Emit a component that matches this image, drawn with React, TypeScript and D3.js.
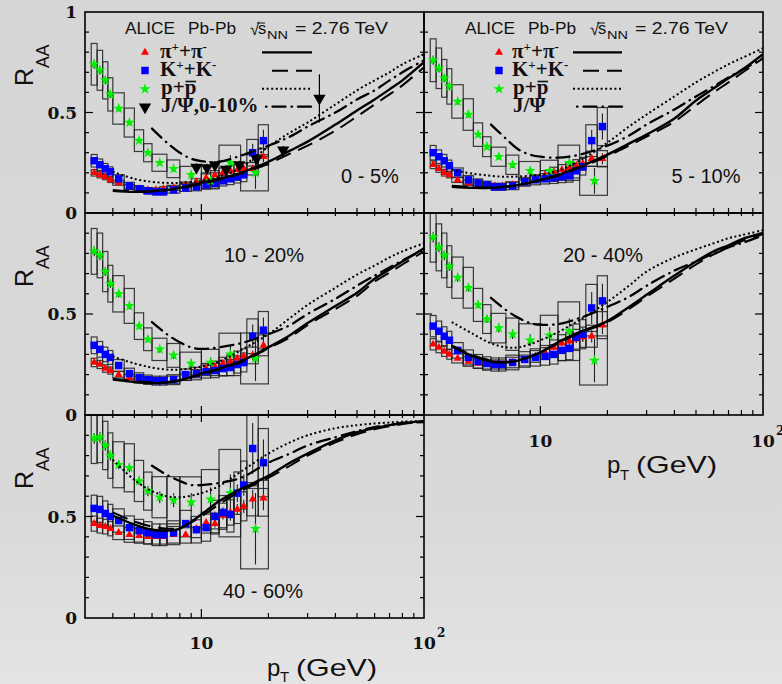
import React from 'react';
import * as d3 from 'd3';

const W = 782;
const H = 684;

// ---------- binning ----------
const piKPt = [3.3, 3.5, 3.7, 3.9, 4.25, 4.75, 5.25, 5.75, 6.25, 6.75, 7.5, 8.5, 9.5, 10.5, 11.5, 12.5, 13.5, 14.5, 15.5, 17, 19];
const piKLo = [3.2, 3.4, 3.6, 3.8, 4.0, 4.5, 5.0, 5.5, 6.0, 6.5, 7, 8, 9, 10, 11, 12, 13, 14, 15, 16, 18];
const piKHi = [3.4, 3.6, 3.8, 4.0, 4.5, 5.0, 5.5, 6.0, 6.5, 7, 8, 9, 10, 11, 12, 13, 14, 15, 16, 18, 20];
const pPt = [3.3, 3.5, 3.7, 3.9, 4.25, 4.75, 5.25, 5.75, 6.5, 7.5, 9, 11, 13.5, 17.5];
const pLo = [3.2, 3.4, 3.6, 3.8, 4.0, 4.5, 5.0, 5.5, 6, 7, 8, 10, 12, 15];
const pHi = [3.4, 3.6, 3.8, 4.0, 4.5, 5.0, 5.5, 6.0, 7, 8, 10, 12, 15, 20];

// relative systematic / statistical uncertainties
const piSysRel = [0.08, 0.08, 0.08, 0.08, 0.08, 0.09, 0.09, 0.09, 0.09, 0.09, 0.1, 0.1, 0.1, 0.11, 0.11, 0.12, 0.12, 0.13, 0.13, 0.14, 0.15];
const kSysRel = [0.12, 0.12, 0.12, 0.12, 0.12, 0.13, 0.13, 0.13, 0.13, 0.13, 0.14, 0.14, 0.15, 0.15, 0.16, 0.16, 0.17, 0.17, 0.18, 0.22, 0.22];
const pSysRel = [0.14, 0.14, 0.14, 0.14, 0.15, 0.16, 0.15, 0.15, 0.17, 0.2, 0.22, 0.25, 0.35, 0.45];
const piStatRel = [0, 0, 0, 0, 0, 0, 0, 0, 0, 0, 0, 0.02, 0.03, 0.03, 0.04, 0.04, 0.05, 0.05, 0.06, 0.08, 0.1];
const kStatRel = [0, 0, 0, 0, 0, 0, 0, 0, 0, 0, 0, 0.03, 0.04, 0.04, 0.05, 0.05, 0.06, 0.07, 0.08, 0.15, 0.15];
const pStatRel = [0.03, 0.03, 0.03, 0.03, 0.03, 0.03, 0.03, 0.04, 0.05, 0.06, 0.08, 0.1, 0.15, 0.4];

// ---------- measured R_AA ----------
const piRaa_0_5 = [0.2, 0.19, 0.18, 0.165, 0.15, 0.13, 0.12, 0.115, 0.115, 0.12, 0.125, 0.14, 0.155, 0.175, 0.19, 0.2, 0.21, 0.215, 0.22, 0.22, 0.28];
const kRaa_0_5 = [0.26, 0.24, 0.22, 0.205, 0.17, 0.135, 0.12, 0.11, 0.105, 0.105, 0.115, 0.125, 0.13, 0.14, 0.148, 0.16, 0.17, 0.18, 0.19, 0.3, 0.36];
const pRaa_0_5 = [0.74, 0.71, 0.66, 0.59, 0.52, 0.45, 0.36, 0.3, 0.25, 0.22, 0.19, 0.16, 0.25, 0.2];

const piRaa_5_10 = [0.24, 0.22, 0.2, 0.19, 0.165, 0.15, 0.14, 0.135, 0.135, 0.135, 0.14, 0.155, 0.17, 0.19, 0.205, 0.215, 0.225, 0.235, 0.245, 0.27, 0.27];
const kRaa_5_10 = [0.3, 0.28, 0.26, 0.235, 0.2, 0.165, 0.15, 0.14, 0.13, 0.13, 0.135, 0.155, 0.165, 0.17, 0.175, 0.18, 0.185, 0.21, 0.23, 0.36, 0.43];
const pRaa_5_10 = [0.76, 0.72, 0.67, 0.63, 0.555, 0.49, 0.39, 0.33, 0.28, 0.24, 0.21, 0.21, 0.25, 0.16];

const piRaa_10_20 = [0.26, 0.25, 0.23, 0.22, 0.2, 0.185, 0.175, 0.17, 0.17, 0.17, 0.175, 0.19, 0.205, 0.23, 0.24, 0.255, 0.265, 0.28, 0.29, 0.295, 0.345];
const kRaa_10_20 = [0.345, 0.325, 0.3, 0.285, 0.245, 0.205, 0.185, 0.175, 0.17, 0.17, 0.175, 0.2, 0.205, 0.215, 0.22, 0.23, 0.235, 0.25, 0.26, 0.39, 0.42];
const pRaa_10_20 = [0.81, 0.79, 0.71, 0.65, 0.6, 0.54, 0.44, 0.375, 0.325, 0.295, 0.255, 0.26, 0.3, 0.28];

const piRaa_20_40 = [0.35, 0.335, 0.315, 0.3, 0.28, 0.265, 0.255, 0.25, 0.25, 0.25, 0.26, 0.27, 0.29, 0.31, 0.335, 0.355, 0.365, 0.375, 0.385, 0.39, 0.445];
const kRaa_20_40 = [0.44, 0.415, 0.39, 0.37, 0.32, 0.285, 0.265, 0.255, 0.25, 0.25, 0.26, 0.275, 0.285, 0.29, 0.3, 0.32, 0.33, 0.385, 0.4, 0.53, 0.565];
const pRaa_20_40 = [0.88, 0.83, 0.79, 0.735, 0.68, 0.63, 0.545, 0.475, 0.43, 0.4, 0.37, 0.395, 0.415, 0.27];

const piRaa_40_60 = [0.465, 0.455, 0.45, 0.44, 0.42, 0.41, 0.405, 0.4, 0.4, 0.4, 0.41, 0.41, 0.44, 0.47, 0.465, 0.505, 0.52, 0.535, 0.55, 0.585, 0.59];
const kRaa_40_60 = [0.54, 0.535, 0.515, 0.5, 0.48, 0.445, 0.43, 0.42, 0.41, 0.41, 0.42, 0.465, 0.435, 0.445, 0.5, 0.52, 0.51, 0.615, 0.655, 0.835, 0.765];
const pRaa_40_60 = [0.885, 0.89, 0.85, 0.8, 0.755, 0.74, 0.675, 0.625, 0.595, 0.58, 0.57, 0.585, 0.615, 0.44];

// J/psi 0-10%
const jpsiPt = [9.5, 10.6, 11.5, 12.9, 14.8, 17.7, 23.3, 33.9];
const jpsiRaa = [0.227, 0.225, 0.239, 0.217, 0.24, 0.27, 0.313, 0.57];
const jpsiErr = [0.02, 0.02, 0.02, 0.02, 0.02, 0.02, 0.02, 0.12];

// ---------- model curves ----------
const curvePt = [4, 5, 6, 7, 8, 10, 12, 15, 20, 25, 30, 40, 50, 60, 70, 80, 100];
const jpsiCurvePt = [6, 7, 8, 9, 10, 12, 15, 20, 25, 30, 40, 50, 60, 70, 80, 100];

const piCurve_0_5 = [0.11, 0.105, 0.108, 0.115, 0.125, 0.15, 0.17, 0.2, 0.255, 0.31, 0.355, 0.44, 0.51, 0.565, 0.615, 0.66, 0.75];
const kCurve_0_5 = [0.115, 0.108, 0.108, 0.113, 0.122, 0.145, 0.165, 0.195, 0.245, 0.295, 0.335, 0.41, 0.48, 0.54, 0.59, 0.635, 0.725];
const pCurve_0_5 = [0.205, 0.17, 0.155, 0.15, 0.15, 0.16, 0.18, 0.225, 0.33, 0.4, 0.45, 0.54, 0.61, 0.66, 0.7, 0.74, 0.79];
const jCurve_0_5 = [0.42, 0.35, 0.3, 0.27, 0.258, 0.255, 0.285, 0.335, 0.38, 0.43, 0.5, 0.565, 0.61, 0.66, 0.7, 0.76];

const piCurve_5_10 = [0.13, 0.125, 0.125, 0.13, 0.14, 0.165, 0.19, 0.23, 0.29, 0.345, 0.39, 0.47, 0.56, 0.62, 0.67, 0.71, 0.79];
const kCurve_5_10 = [0.135, 0.128, 0.127, 0.132, 0.14, 0.162, 0.185, 0.225, 0.283, 0.335, 0.38, 0.455, 0.535, 0.6, 0.65, 0.695, 0.77];
const pCurve_5_10 = [0.215, 0.195, 0.185, 0.18, 0.182, 0.19, 0.21, 0.26, 0.35, 0.43, 0.49, 0.58, 0.65, 0.7, 0.74, 0.77, 0.82];
const jCurve_5_10 = [0.44, 0.37, 0.315, 0.29, 0.28, 0.275, 0.29, 0.335, 0.385, 0.44, 0.515, 0.58, 0.63, 0.675, 0.71, 0.77];

const piCurve_10_20 = [0.175, 0.163, 0.158, 0.16, 0.172, 0.205, 0.23, 0.265, 0.335, 0.395, 0.455, 0.54, 0.605, 0.675, 0.72, 0.76, 0.825];
const kCurve_10_20 = [0.18, 0.168, 0.162, 0.163, 0.173, 0.2, 0.225, 0.26, 0.33, 0.385, 0.445, 0.525, 0.59, 0.66, 0.705, 0.745, 0.81];
const pCurve_10_20 = [0.29, 0.255, 0.235, 0.225, 0.225, 0.24, 0.265, 0.32, 0.4, 0.48, 0.545, 0.63, 0.695, 0.74, 0.78, 0.81, 0.85];
const jCurve_10_20 = [0.46, 0.4, 0.36, 0.335, 0.327, 0.335, 0.355, 0.4, 0.445, 0.5, 0.575, 0.64, 0.69, 0.73, 0.765, 0.82];

const piCurve_20_40 = [0.34, 0.29, 0.265, 0.26, 0.27, 0.31, 0.36, 0.41, 0.465, 0.535, 0.595, 0.69, 0.76, 0.81, 0.84, 0.87, 0.9];
const kCurve_20_40 = [0.345, 0.295, 0.27, 0.263, 0.272, 0.31, 0.355, 0.405, 0.46, 0.525, 0.585, 0.675, 0.745, 0.795, 0.83, 0.86, 0.895];
const pCurve_20_40 = [0.46, 0.4, 0.355, 0.335, 0.335, 0.37, 0.41, 0.47, 0.56, 0.64, 0.71, 0.78, 0.82, 0.85, 0.875, 0.89, 0.915];
const jCurve_20_40 = [0.58, 0.52, 0.48, 0.455, 0.447, 0.45, 0.48, 0.535, 0.585, 0.64, 0.715, 0.76, 0.8, 0.83, 0.85, 0.89];

const piCurve_40_60 = [0.505, 0.46, 0.435, 0.43, 0.44, 0.51, 0.575, 0.635, 0.7, 0.765, 0.81, 0.875, 0.915, 0.935, 0.95, 0.96, 0.97];
const kCurve_40_60 = [0.52, 0.475, 0.45, 0.44, 0.445, 0.5, 0.56, 0.625, 0.69, 0.75, 0.8, 0.865, 0.905, 0.93, 0.945, 0.955, 0.97];
const pCurve_40_60 = [0.78, 0.68, 0.625, 0.6, 0.595, 0.615, 0.65, 0.72, 0.81, 0.865, 0.9, 0.935, 0.95, 0.958, 0.963, 0.967, 0.97];
const jCurve_40_60 = [0.75, 0.705, 0.675, 0.655, 0.655, 0.665, 0.69, 0.765, 0.81, 0.85, 0.89, 0.92, 0.94, 0.95, 0.96, 0.965];

// ---------- axes ----------
const xDomain = [3, 100];
const yDomain = [0, 1];
const xMinorTicks = [4, 5, 6, 7, 8, 9, 20, 30, 40, 50, 60, 70, 80, 90];
const xMajorTicks = [10];
const yTickVals = [0.1, 0.2, 0.3, 0.4, 0.5, 0.6, 0.7, 0.8, 0.9];
const yMajorVals = [0.5];
const yLabelsTop = ['1', '0.5', '0'];
const centralityLabels = ['0 - 5%', '5 - 10%', '10 - 20%', '20 - 40%', '40 - 60%'];

const colRange = [[85, 424], [424, 763]];
const rowRange = [[12, 213], [213, 415], [415, 618]];

const panels = [
  { id: 0, col: 0, row: 0, label: centralityLabels[0], lx: 370, ly: 183, pi: piRaa_0_5, k: kRaa_0_5, p: pRaa_0_5, cPi: piCurve_0_5, cK: kCurve_0_5, cP: pCurve_0_5, cJ: jCurve_0_5, legend: 1 },
  { id: 1, col: 1, row: 0, label: centralityLabels[1], lx: 706, ly: 183, pi: piRaa_5_10, k: kRaa_5_10, p: pRaa_5_10, cPi: piCurve_5_10, cK: kCurve_5_10, cP: pCurve_5_10, cJ: jCurve_5_10, legend: 2 },
  { id: 2, col: 0, row: 1, label: centralityLabels[2], lx: 264, ly: 262, pi: piRaa_10_20, k: kRaa_10_20, p: pRaa_10_20, cPi: piCurve_10_20, cK: kCurve_10_20, cP: pCurve_10_20, cJ: jCurve_10_20, legend: 0 },
  { id: 3, col: 1, row: 1, label: centralityLabels[3], lx: 603, ly: 262, pi: piRaa_20_40, k: kRaa_20_40, p: pRaa_20_40, cPi: piCurve_20_40, cK: kCurve_20_40, cP: pCurve_20_40, cJ: jCurve_20_40, legend: 0 },
  { id: 4, col: 0, row: 2, label: centralityLabels[4], lx: 263, ly: 598, pi: piRaa_40_60, k: kRaa_40_60, p: pRaa_40_60, cPi: piCurve_40_60, cK: kCurve_40_60, cP: pCurve_40_60, cJ: jCurve_40_60, legend: 0 },
];

const SANS = 'Liberation Sans, Arial, Helvetica, sans-serif';
const SERIF = 'Liberation Serif, Times New Roman, serif';
const TICKF = 'DejaVu Serif, serif';

const DASH_K = '16 8';
const DASH_P = '2 2.6';
const DASH_J = '13 6 0.5 6';

const triPath = d3.symbol().type(d3.symbolTriangle).size(28)() as string;
const sqPath = d3.symbol().type(d3.symbolSquare).size(56)() as string;
const starPath = d3.symbol().type(d3.symbolStar).size(38)() as string;
const jPath = d3.symbol().type(d3.symbolTriangle).size(66)() as string;

const RED = '#ff0000';
const BLUE = '#0000ff';
const GREEN = '#00f000';

function Legend({ kind }: { kind: number }) {
  if (!kind) return null;
  const left = kind === 1;
  const hx = left ? 0 : 340;
  const mx = left ? 145 : 499;
  const tx = left ? 160 : 512;
  const l0 = left ? 262 : 573;
  const l1 = left ? 312 : 622;
  const my = [52.5, 70.5, 89, 107];
  const by = [58, 76, 94, 112];
  const ly = [52.3, 70.7, 88.7, 106.7];
  const fs = 21;
  const sup = { fontSize: 13 } as any;
  return (
    <g>
      <g fontFamily={SANS} fontSize={16.5} fill="#111">
        <text x={125 + hx} y={34} textLength={50} lengthAdjust="spacingAndGlyphs">ALICE</text>
        <text x={188 + hx} y={34} textLength={48} lengthAdjust="spacingAndGlyphs">Pb-Pb</text>
        <text x={250 + hx} y={35} fontSize={17}>√</text>
        <line x1={257 + hx} x2={265 + hx} y1={23} y2={23} stroke="#111" strokeWidth={1} />
        <text x={258 + hx} y={34}>s</text>
        <text x={267 + hx} y={38.5} fontSize={11.5} textLength={21} lengthAdjust="spacingAndGlyphs">NN</text>
        <text x={295 + hx} y={34} textLength={93} lengthAdjust="spacingAndGlyphs">= 2.76 TeV</text>
      </g>
      <path d={triPath} transform={`translate(${mx},${my[0]})`} fill={RED} />
      <path d={sqPath} transform={`translate(${mx},${my[1]})`} fill={BLUE} />
      <path d={starPath} transform={`translate(${mx},${my[2]})`} fill={GREEN} />
      {left && <path d={jPath} transform={`translate(${mx},${my[3]}) rotate(180)`} fill="#000" />}
      <g fontFamily={SERIF} fontWeight="bold" fontSize={fs} fill="#111">
        <text x={tx} y={by[0]}>π<tspan dy={-7} style={sup}>+</tspan><tspan dy={7}>+π</tspan><tspan dy={-7} style={sup}>-</tspan></text>
        <text x={tx} y={by[1]}>K<tspan dy={-7} style={sup}>+</tspan><tspan dy={7}>+K</tspan><tspan dy={-7} style={sup}>-</tspan></text>
        <text x={tx + 1} y={by[2]}>p+p</text>
        <text x={tx + 1} y={by[3]}>{left ? 'J/Ψ,0-10%' : 'J/Ψ'}</text>
      </g>
      <line x1={tx + 25.5} x2={tx + 36} y1={by[2] - 12.5} y2={by[2] - 12.5} stroke="#111" strokeWidth={1.6} />
      <g stroke="#000" strokeWidth={2} fill="none">
        <line x1={l0} x2={l1} y1={ly[0]} y2={ly[0]} strokeWidth={2.3} />
        <line x1={l0 + 10} x2={l1} y1={ly[1]} y2={ly[1]} strokeDasharray={DASH_K} />
        <line x1={l0} x2={l1} y1={ly[2]} y2={ly[2]} strokeDasharray={DASH_P} />
        <line x1={l0 + 4} x2={l1} y1={ly[3]} y2={ly[3]} strokeDasharray={DASH_J} strokeDashoffset={19} strokeLinecap="round" strokeWidth={2.3} />
      </g>
    </g>
  );
}

function Panel({ def }: { def: any }) {
  const [x0, x1] = colRange[def.col];
  const [y0, y1] = rowRange[def.row];
  const xs = d3.scaleLog().domain(xDomain).range([x0, x1]);
  const ys = d3.scaleLinear().domain(yDomain).range([y1, y0]);
  const clipId = `clip-${def.id}`;
  const line = d3
    .line<[number, number]>()
    .x((d) => xs(d[0]))
    .y((d) => ys(d[1]))
    .curve(d3.curveCatmullRom.alpha(0.5));
  const zip = (a: number[], b: number[]) => a.map((v, i) => [v, b[i]] as [number, number]);

  const boxes = (lo: number[], hi: number[], vals: number[], rel: number[], key: string) =>
    vals.map((v, i) => {
      const top = ys(v * (1 + rel[i]));
      const bot = ys(v * (1 - rel[i]));
      return (
        <rect key={key + i} x={xs(lo[i])} y={top} width={xs(hi[i]) - xs(lo[i])} height={bot - top} fill="none" stroke="#1e1e1e" strokeOpacity={0.85} strokeWidth={1.2} />
      );
    });
  const stats = (pts: number[], vals: number[], rel: number[], key: string) =>
    vals.map((v, i) =>
      rel[i] > 0 ? (
        <line key={key + i} x1={xs(pts[i])} x2={xs(pts[i])} y1={ys(v * (1 + rel[i]))} y2={ys(v * (1 - rel[i]))} stroke="#222" strokeWidth={1.1} />
      ) : null
    );
  const markers = (pts: number[], vals: number[], path: string, color: string, key: string) =>
    vals.map((v, i) => <path key={key + i} d={path} transform={`translate(${xs(pts[i])},${ys(v)})`} fill={color} />);

  return (
    <g>
      <defs>
        <clipPath id={clipId}>
          <rect x={x0} y={y0} width={x1 - x0} height={y1 - y0} />
        </clipPath>
      </defs>
      <g clipPath={`url(#${clipId})`}>
        {boxes(pLo, pHi, def.p, pSysRel, 'bp')}
        {boxes(piKLo, piKHi, def.k, kSysRel, 'bk')}
        {boxes(piKLo, piKHi, def.pi, piSysRel, 'bpi')}
        {stats(pPt, def.p, pStatRel, 'sp')}
        {stats(piKPt, def.k, kStatRel, 'sk')}
        {stats(piKPt, def.pi, piStatRel, 'spi')}
        {markers(piKPt, def.pi, triPath, RED, 'mpi')}
        {markers(piKPt, def.k, sqPath, BLUE, 'mk')}
        {markers(pPt, def.p, starPath, GREEN, 'mp')}
        <g fill="none" stroke="#000" strokeWidth={2}>
          <path d={line(zip(curvePt, def.cPi)) as string} strokeWidth={2.4} />
          <path d={line(zip(curvePt, def.cK)) as string} strokeDasharray={DASH_K} />
          <path d={line(zip(curvePt, def.cP)) as string} strokeDasharray={DASH_P} />
          <path d={line(zip(jpsiCurvePt, def.cJ)) as string} strokeDasharray={DASH_J} strokeLinecap="round" strokeWidth={2.3} />
        </g>
        {def.id === 0 &&
          jpsiRaa.map((v, i) => (
            <g key={'j' + i}>
              <line x1={xs(jpsiPt[i])} x2={xs(jpsiPt[i])} y1={ys(v + jpsiErr[i])} y2={ys(v - jpsiErr[i])} stroke="#000" strokeWidth={1.2} />
              <path d={jPath} transform={`translate(${xs(jpsiPt[i])},${ys(v)}) rotate(180)`} fill="#000" />
            </g>
          ))}
      </g>
      <text x={def.lx} y={def.ly} textAnchor="middle" fontFamily={SANS} fontSize={20} fill="#111">
        {def.label}
      </text>
      <Legend kind={def.legend} />
      {/* frame */}
      <rect x={x0} y={y0} width={x1 - x0} height={y1 - y0} fill="none" stroke="#000" strokeWidth={1.6} />
      <g stroke="#000" strokeWidth={1.2}>
        {yTickVals.map((v) => {
          const len = yMajorVals.includes(v) ? 8 : 4;
          return (
            <g key={'yt' + v}>
              <line x1={x0} x2={x0 + len} y1={ys(v)} y2={ys(v)} />
              <line x1={x1} x2={x1 - len} y1={ys(v)} y2={ys(v)} />
            </g>
          );
        })}
        {xMinorTicks.map((v) => (
          <g key={'xt' + v}>
            <line x1={xs(v)} x2={xs(v)} y1={y1} y2={y1 - 5} />
            {def.row > 0 && <line x1={xs(v)} x2={xs(v)} y1={y0} y2={y0 + 3} />}
          </g>
        ))}
        {xMajorTicks.map((v) => (
          <g key={'xm' + v}>
            <line x1={xs(v)} x2={xs(v)} y1={y1} y2={y1 - 9} />
            {def.row > 0 && <line x1={xs(v)} x2={xs(v)} y1={y0} y2={y0 + 7} />}
          </g>
        ))}
      </g>
    </g>
  );
}

export default function App() {
  const leftXs = d3.scaleLog().domain(xDomain).range(colRange[0]);
  const rightXs = d3.scaleLog().domain(xDomain).range(colRange[1]);
  return (
    <svg width={W} height={H} viewBox={`0 0 ${W} ${H}`} style={{ position: 'absolute', left: 0, top: 0, display: 'block' }}>
      <defs>
        <linearGradient id="bg" x1="0" y1="0" x2="0" y2="1">
          <stop offset="0" stopColor="#d6d6d6" />
          <stop offset="0.75" stopColor="#d9d9d9" />
          <stop offset="1" stopColor="#e4e4e4" />
        </linearGradient>
      </defs>
      <rect x={0} y={0} width={W} height={H} fill="url(#bg)" />
      {panels.map((p) => (
        <Panel key={p.id} def={p} />
      ))}

      {/* y tick labels */}
      <g fontFamily={TICKF} fontWeight="bold" fontSize={17} fill="#111" textAnchor="end">
        {rowRange.map(([t, b], r) => {
          const ys = d3.scaleLinear().domain(yDomain).range([b, t]);
          return (
            <g key={'yl' + r}>
              {r === 0 && <text x={77} y={ys(1)} dy="0.36em">{yLabelsTop[0]}</text>}
              <text x={77} y={ys(0.5)} dy="0.36em">{yLabelsTop[1]}</text>
              <text x={77} y={ys(0)} dy="0.36em">{yLabelsTop[2]}</text>
            </g>
          );
        })}
      </g>

      {/* R_AA titles */}
      {rowRange.map(([t], r) => (
        <text key={'ra' + r} transform={`translate(33,${t + 74}) rotate(-90)`} fontFamily={SANS} fontSize={25} fill="#111">
          R<tspan dy={16} fontSize={17.5}>AA</tspan>
        </text>
      ))}

      {/* x tick labels */}
      <g fontFamily={TICKF} fontWeight="bold" fontSize={17} fill="#111">
        <text x={leftXs(10)} y={649} textAnchor="middle">10</text>
        <text x={leftXs(100)} y={649} textAnchor="middle">10</text>
        <text x={leftXs(100) + 13} y={637} fontSize={12}>2</text>
        <text x={rightXs(10)} y={447} textAnchor="middle">10</text>
        <text x={rightXs(100)} y={447} textAnchor="middle">10</text>
        <text x={rightXs(100) + 13} y={435} fontSize={12}>2</text>
      </g>

      {/* x titles */}
      <g fontFamily={SANS} fontSize={24} fill="#111">
        <text x={267} y={676}>p</text>
        <text x={280} y={682} fontSize={15}>T</text>
        <text x={296} y={676} textLength={81} lengthAdjust="spacingAndGlyphs">(GeV)</text>
        <text x={607} y={473}>p</text>
        <text x={620} y={480} fontSize={15}>T</text>
        <text x={636} y={473} textLength={81} lengthAdjust="spacingAndGlyphs">(GeV)</text>
      </g>
    </svg>
  );
}
